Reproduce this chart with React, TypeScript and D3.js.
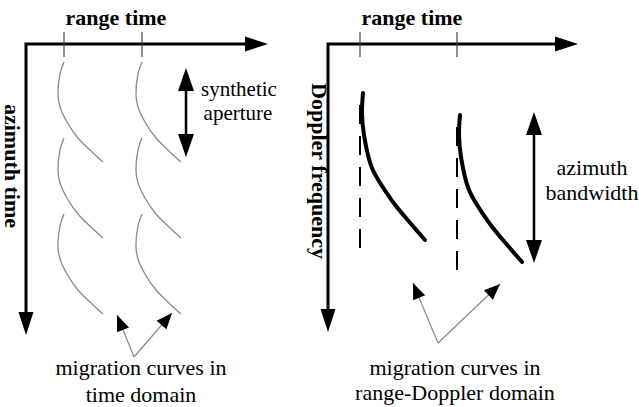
import React from 'react';
import * as d3 from 'd3';

const W = 639;
const H = 407;

// ---- left panel: time domain (units ~ px from the axis origin) ----
const leftTargets = [38, 116];              // range time of the two targets
const leftExposureStarts = [18, 94, 170];   // azimuth time where each curve begins
const hyperbola: [number, number][] = [
  [0, 0], [-4, 12], [-6, 33], [-4, 45], [3, 60], [14, 76], [28, 90], [39, 100],
];
const apertureArrow = { x: 160, y0: 24, y1: 113 };
const leftPointer = { from: [108, 313], tips: [[91, 271], [146, 269]] };

// ---- right panel: range-Doppler domain ----
const rightTargets = [32, 129];
const rdStarts = [49, 71];
const rdCurve: [number, number][] = [
  [3, 0], [2, 20], [4, 42], [12, 75], [33, 109], [52, 132], [65, 147],
];
const rdDashes: [number, number][] = [[61, 208], [83, 229]];
const bandwidthArrow = { x: 206, y0: 68, y1: 219 };
const rightPointer = { from: [110, 299], tips: [[85, 239], [172, 240]] };

const serif = '"Liberation Serif", "Times New Roman", serif';

function head(tip: number[], from: number[], len: number, hw: number) {
  const dx = tip[0] - from[0];
  const dy = tip[1] - from[1];
  const d = Math.hypot(dx, dy) || 1;
  const ux = dx / d, uy = dy / d;
  const bx = tip[0] - ux * len, by = tip[1] - uy * len;
  return [
    [tip[0], tip[1]],
    [bx - uy * hw, by + ux * hw],
    [bx + uy * hw, by - ux * hw],
  ].map(p => p.join(',')).join(' ');
}

const Axes: React.FC<{ x: d3.ScaleLinear<number, number>; y: d3.ScaleLinear<number, number> }> = ({ x, y }) => {
  const [x0, x1] = x.range();
  const [y0, y1] = y.range();
  return (
    <g>
      <polyline points={`${x1 - 20},${y0} ${x0},${y0} ${x0},${y1 - 20}`} fill="none" stroke="#000" strokeWidth={3} />
      <polygon points={head([x1, y0], [x0, y0], 23, 7.5)} fill="#000" />
      <polygon points={head([x0, y1], [x0, y0], 23, 7.5)} fill="#000" />
    </g>
  );
};

const DoubleArrow: React.FC<{ x: number; y0: number; y1: number }> = ({ x, y0, y1 }) => (
  <g>
    <line x1={x} x2={x} y1={y0 + 18} y2={y1 - 18} stroke="#000" strokeWidth={2.5} />
    <polygon points={head([x, y0], [x, y1], 23, 8)} fill="#000" />
    <polygon points={head([x, y1], [x, y0], 23, 8)} fill="#000" />
  </g>
);

const Pointer: React.FC<{ from: number[]; tips: number[][] }> = ({ from, tips }) => (
  <g>
    {tips.map((t, i) => (
      <g key={i}>
        <line x1={from[0]} y1={from[1]} x2={t[0]} y2={t[1]} stroke="#888" strokeWidth={1.2} />
        <polygon points={head(t, from, 16, 6.5)} fill="#000" />
      </g>
    ))}
  </g>
);

export default function App() {
  const lx = d3.scaleLinear().domain([0, 242]).range([26, 268]);
  const ly = d3.scaleLinear().domain([0, 291]).range([44, 335]);
  const rx = d3.scaleLinear().domain([0, 250]).range([328, 578]);
  const ry = d3.scaleLinear().domain([0, 288]).range([44, 332]);

  const line = d3.line<[number, number]>().curve(d3.curveCatmullRom.alpha(0.5));

  const leftCurves: string[] = [];
  leftTargets.forEach(t => {
    leftExposureStarts.forEach(s => {
      leftCurves.push(line(hyperbola.map(([dx, dy]) => [lx(t + dx), ly(s + dy)] as [number, number])) || '');
    });
  });

  const rightCurves = rightTargets.map((t, i) =>
    line(rdCurve.map(([dx, dy]) => [rx(t + dx), ry(rdStarts[i] + dy)] as [number, number])) || ''
  );

  const mapPt = (xs: d3.ScaleLinear<number, number>, ys: d3.ScaleLinear<number, number>, p: number[]) => [xs(p[0]), ys(p[1])];

  return (
    <svg width={W} height={H} style={{ position: 'absolute', left: 0, top: 0, background: '#fff' }} fontFamily={serif}>
      <rect width={W} height={H} fill="#fff" />

      {/* ----- left panel ----- */}
      <Axes x={lx} y={ly} />
      {leftTargets.map(t => (
        <line key={t} x1={lx(t)} x2={lx(t)} y1={32} y2={57} stroke="#444" strokeWidth={1.2} />
      ))}
      {leftCurves.map((d, i) => (
        <path key={i} d={d} fill="none" stroke="#8a8a8a" strokeWidth={1.3} />
      ))}
      <DoubleArrow x={lx(apertureArrow.x)} y0={ly(apertureArrow.y0)} y1={ly(apertureArrow.y1)} />
      <Pointer from={mapPt(lx, ly, leftPointer.from)} tips={leftPointer.tips.map(p => mapPt(lx, ly, p))} />

      <text x={116} y={25} textAnchor="middle" fontWeight="bold" fontSize={22}>range time</text>
      <text transform="translate(5,166) rotate(90)" textAnchor="middle" fontWeight="bold" fontSize={22}>azimuth time</text>
      <text x={239} y={96} textAnchor="middle" fontSize={21}>synthetic</text>
      <text x={238} y={120} textAnchor="middle" fontSize={21}>aperture</text>
      <text x={141} y={375} textAnchor="middle" fontSize={22}>migration curves in</text>
      <text x={141} y={402} textAnchor="middle" fontSize={22}>time domain</text>

      {/* ----- right panel ----- */}
      <Axes x={rx} y={ry} />
      {rightTargets.map(t => (
        <line key={t} x1={rx(t)} x2={rx(t)} y1={32} y2={57} stroke="#444" strokeWidth={1.2} />
      ))}
      {rdDashes.map(([a, b], i) => (
        <line key={i} x1={rx(rightTargets[i])} x2={rx(rightTargets[i])} y1={ry(a)} y2={ry(b)}
          stroke="#000" strokeWidth={2} strokeDasharray="19,12" />
      ))}
      {rightCurves.map((d, i) => (
        <path key={i} d={d} fill="none" stroke="#000" strokeWidth={4} strokeLinecap="round" />
      ))}
      <DoubleArrow x={rx(bandwidthArrow.x)} y0={ry(bandwidthArrow.y0)} y1={ry(bandwidthArrow.y1)} />
      <Pointer from={mapPt(rx, ry, rightPointer.from)} tips={rightPointer.tips.map(p => mapPt(rx, ry, p))} />

      <text x={412} y={25} textAnchor="middle" fontWeight="bold" fontSize={22}>range time</text>
      <text transform="translate(312,171) rotate(90)" textAnchor="middle" fontWeight="bold" fontSize={22}>Doppler frequency</text>
      <text x={592} y={175} textAnchor="middle" fontSize={22}>azimuth</text>
      <text x={592} y={200} textAnchor="middle" fontSize={22}>bandwidth</text>
      <text x={455} y={375} textAnchor="middle" fontSize={22}>migration curves in</text>
      <text x={455} y={400} textAnchor="middle" fontSize={22}>range-Doppler domain</text>
    </svg>
  );
}
